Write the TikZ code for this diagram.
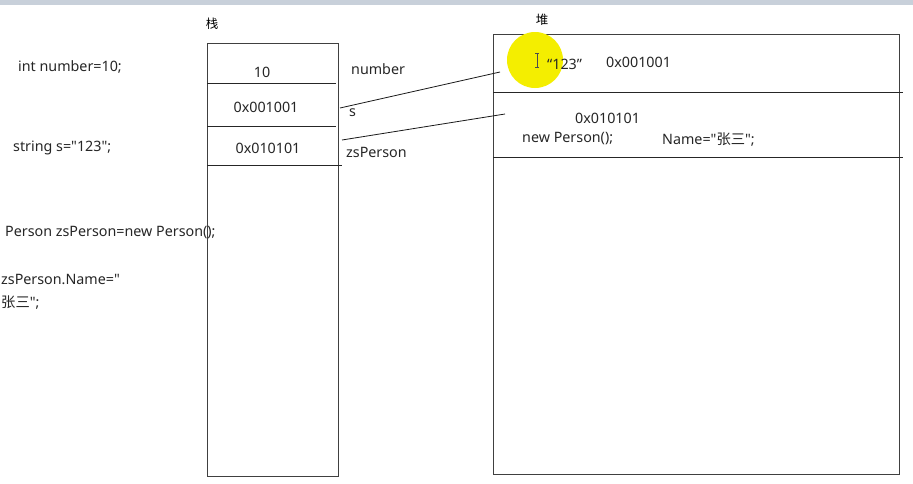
\documentclass[tikz,border=0pt]{standalone}
\usepackage{fontspec}
\setmainfont{Noto Sans}[Ligatures=TeXOff]
\newfontfamily\cjk{Noto Sans CJK SC}[Ligatures=TeXOff]
\definecolor{strip}{RGB}{200,208,218}
\definecolor{glow}{RGB}{244,238,0}
\begin{document}
\begin{tikzpicture}[x=1pt,y=-1pt,
  txt/.style={inner sep=0pt,anchor=west,font=\fontsize{14.3}{16}\selectfont,text=black!85},
  ctr/.style={inner sep=0pt,anchor=center,font=\fontsize{14.3}{16}\selectfont,text=black!85},
  ttl/.style={inner sep=0pt,font=\cjk\fontsize{12.5}{14}\selectfont},
  frame/.style={draw=black!75,line width=0.9pt},
  sep/.style={draw=black!85,line width=0.8pt},
  link/.style={draw=black!90,line width=0.8pt}]
\useasboundingbox (0,0) rectangle (913,483);
\fill[white] (0,0) rectangle (913,483);
% window strip along the top edge
\fill[strip] (0,0) rectangle (913,5);

% source lines on the left
\node[txt] (c1) at (18,67) {int number=10;};
\node[txt] (c2) at (13,148) {string s="123";};
\node[txt] (c3) at (5,233) {Person zsPerson=new Person();};
\node[txt] (c4) at (1,279) {zsPerson.Name="};
\node[txt] (c5) at (1,303) {{\cjk 张三}";};

% stack
\node[ttl] (stk) at (212,24) {栈};
\draw[frame] (207,43) rectangle (338,476);
\draw[sep] (207,83) -- (336,83);
\draw[sep] (207,126) -- (336,126);
\draw[sep] (207,165) -- (342,165);
\node[ctr] (v1) at (262,72) {10};
\node[ctr] (v2) at (266,107) {0x001001};
\node[ctr] (v3) at (268,148) {0x010101};
\node[txt] (n1) at (351,69) {number};
\node[txt] (n2) at (349,113) {s};
\node[txt] (n3) at (346,152) {zsPerson};

% heap
\node[ttl] (hp) at (542,20) {堆};
\draw[frame] (493,34) rectangle (899,474);
\draw[sep] (493,92) -- (903,92);
\draw[sep] (493,157) -- (903,157);

% cursor highlight
\fill[glow] (535,60) circle (28);
\draw[black!70,line width=0.6pt] (537,53) -- (537,67) (535,53) -- (539,53) (535,67) -- (539,67);

\node[txt] (h1) at (547,64) {“123”};
\node[txt] (h2) at (606,62) {0x001001};
\node[txt] (h3) at (575,118) {0x010101};
\node[txt] (h4) at (522,139) {new Person();};
\node[txt] (h5) at (662,140) {Name="{\cjk 张三}";};

% references from the stack to the heap
\coordinate (a1) at (340,108);
\coordinate (b1) at (500,72);
\coordinate (a2) at (342,140);
\coordinate (b2) at (505,114);
\draw[link] (a1) -- (b1);
\draw[link] (a2) -- (b2);
\end{tikzpicture}
\end{document}
